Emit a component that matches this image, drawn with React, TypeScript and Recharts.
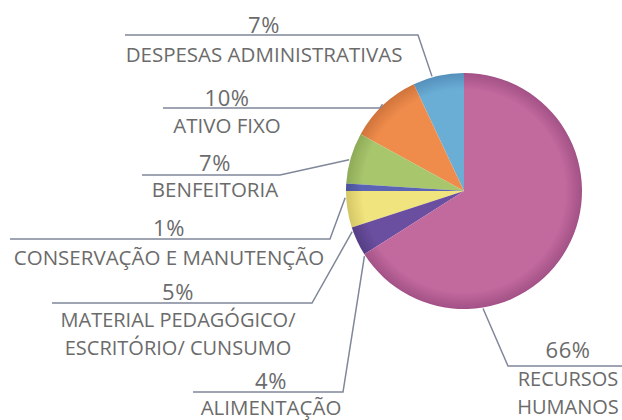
import { PieChart, Pie, Cell } from "recharts"

const categories = [
  "DESPESAS ADMINISTRATIVAS",
  "ATIVO FIXO",
  "BENFEITORIA",
  "CONSERVAÇÃO E MANUTENÇÃO",
  "MATERIAL PEDAGÓGICO/\nESCRITÓRIO/ CUNSUMO",
  "ALIMENTAÇÃO",
  "RECURSOS\nHUMANOS",
]
const shares = [7, 10, 7, 1, 5, 4, 66]
const colors = ["#6aaed6", "#ef8c4c", "#a8c66c", "#5b64b4", "#f0e47e", "#6a4e9f", "#c2699e"]
const edgeColors = ["#5590bb", "#d0743c", "#8eaa58", "#4a5298", "#d4c666", "#553e85", "#a25186"]

const data = categories.map((name, i) => ({ name, value: shares[i] }))

// where each callout sits: horizontal rule (y, x1..x2), which end the leader leaves from,
// text centre, baselines, and a small nudge of the anchor angle on the rim
const callouts = [
  { y: 35, x1: 125, x2: 418, fromLeft: false, tx: 264, py: 33, ny: 62, nudge: 3 },
  { y: 108, x1: 163, x2: 380, fromLeft: false, tx: 227, py: 106, ny: 133, nudge: 0 },
  { y: 175, x1: 142, x2: 280, fromLeft: false, tx: 215, py: 171, ny: 197, nudge: 1 },
  { y: 239, x1: 10, x2: 330, fromLeft: false, tx: 169, py: 236, ny: 265, nudge: 5 },
  { y: 303, x1: 52, x2: 312, fromLeft: false, tx: 178, py: 300, ny: 327, nudge: 11 },
  { y: 392, x1: 193, x2: 343, fromLeft: false, tx: 271, py: 389, ny: 415, nudge: 8 },
  { y: 366, x1: 508, x2: 622, fromLeft: true, tx: 568, py: 358, ny: 386, nudge: -52 },
]

const RAD = Math.PI / 180
const textColor = "#6b6b6b"
const ruleColor = "#7f8799"
const font = "'Open Sans', sans-serif"
const PIE_CX = 464
const PIE_CY = 191
const PIE_R = 118

function renderCallout(props: any) {
  const { cx, cy, midAngle, outerRadius, index, value, name } = props
  const c = callouts[index]
  const a = (midAngle + c.nudge) * RAD
  const ax = cx + (outerRadius + 1) * Math.cos(a)
  const ay = cy - (outerRadius + 1) * Math.sin(a)
  const lines = String(name).split("\n")
  const pts = c.fromLeft
    ? `${ax},${ay} ${c.x1},${c.y} ${c.x2},${c.y}`
    : `${c.x1},${c.y} ${c.x2},${c.y} ${ax},${ay}`
  const size = lines.length > 1 ? 20 : 20.5
  return (
    <g key={`lbl-${index}`}>
      <polyline points={pts} fill="none" stroke={ruleColor} strokeWidth={1.5} />
      <text x={c.tx} y={c.py} textAnchor="middle" fill={textColor} fontSize={22} fontFamily={font} letterSpacing={0.5}>
        {value}%
      </text>
      {lines.map((ln, k) => (
        <text key={k} x={c.tx} y={c.ny + k * 27.5} textAnchor="middle" fill={textColor} fontSize={size} fontFamily={font}>
          {ln}
        </text>
      ))}
    </g>
  )
}

export default function App() {
  return (
    <div style={{ width: 622, height: 420, background: "#ffffff" }}>
      <style>{"body{margin:0}"}</style>
      <PieChart width={622} height={420} margin={{ top: 0, right: 0, bottom: 0, left: 0 }}>
        <defs>
          {colors.map((col, i) => (
            <radialGradient key={i} id={`slice${i}`} gradientUnits="userSpaceOnUse" cx={PIE_CX} cy={PIE_CY} r={PIE_R}>
              <stop offset="0%" stopColor={col} />
              <stop offset="86%" stopColor={col} />
              <stop offset="100%" stopColor={edgeColors[i]} />
            </radialGradient>
          ))}
        </defs>
        <Pie
          data={data}
          dataKey="value"
          nameKey="name"
          cx={PIE_CX}
          cy={PIE_CY}
          outerRadius={PIE_R}
          startAngle={90}
          endAngle={450}
          stroke="none"
          label={renderCallout}
          labelLine={false}
          isAnimationActive={false}
        >
          {data.map((d, i) => (
            <Cell key={d.name} fill={`url(#slice${i})`} />
          ))}
        </Pie>
      </PieChart>
    </div>
  )
}
